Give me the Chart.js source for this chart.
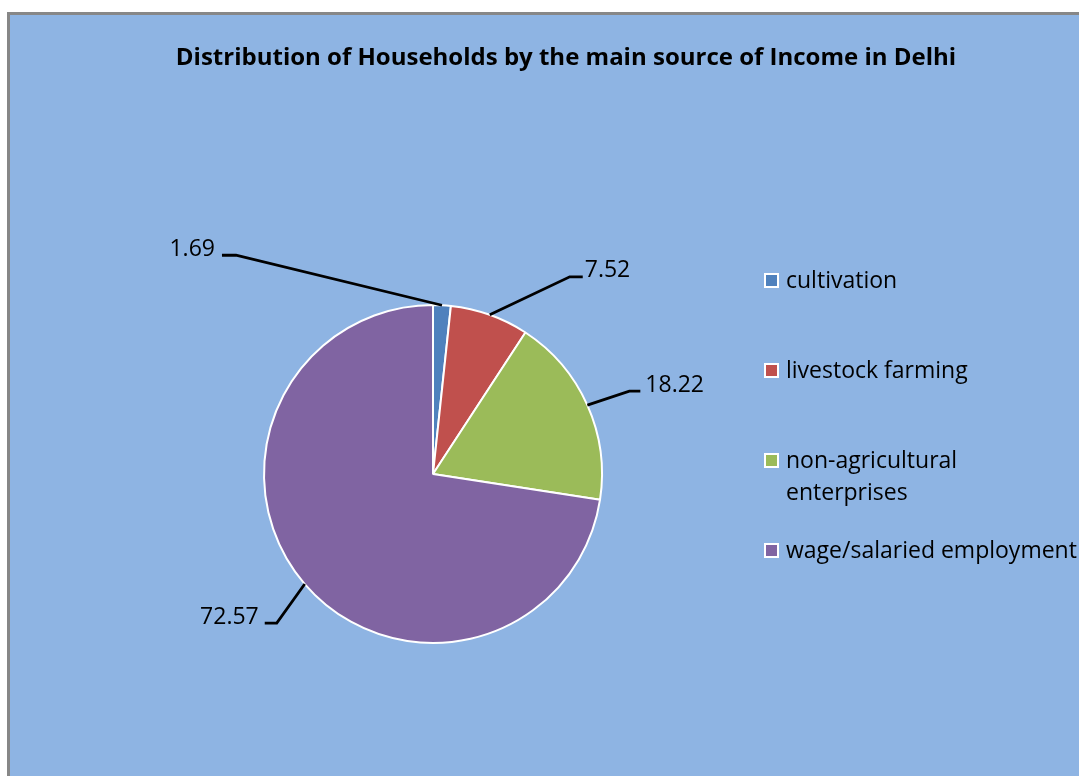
<!DOCTYPE html>
<html lang="en">
<head>
    <meta charset="UTF-8">
    <title>Distribution of Households by the main source of Income in Delhi</title>
    <script src="https://cdn.jsdelivr.net/npm/chart.js@4.4.0/dist/chart.umd.min.js"></script>
    <style>
        body {
            margin: 0;
            background: #ffffff;
            overflow: hidden;
        }
        .chart-box {
            position: absolute;
            left: 7px;
            top: 12px;
            width: 1110px;
            height: 800px;
            border: 3px solid #878787;
            background: #8eb4e3;
        }
    </style>
</head>
<body>
    <div class="chart-box">
        <canvas id="incomeChart"></canvas>
    </div>

    <script>
        // data
        const categories = ['cultivation', 'livestock farming', 'non-agricultural enterprises', 'wage/salaried employment'];
        const shares = [1.69, 7.52, 18.22, 72.57];
        const valueLabels = ['1.69', '7.52', '18.22', '72.57'];

        const sliceColors = ['#4f81bd', '#c0504d', '#9bbb59', '#8064a2'];
        // leader line elbow offsets from the slice edge (dx, dy) and horizontal tail
        const leaderOffsets = [[-206, -50, -14], [80, -38, 13], [42, -14, 11], [-28, 39, -12]];
        const labelGap = [7, 2, 5, 6];
        const wrapLegend = { 2: ['non-agricultural', 'enterprises'] };

        const fontFamily = "'Open Sans', 'Noto Sans', sans-serif";

        const decorPlugin = {
            id: 'decor',
            afterDraw(chart) {
                const ctx = chart.ctx;
                ctx.save();

                // title
                ctx.fillStyle = '#000';
                ctx.font = 'bold 24px ' + fontFamily;
                ctx.textAlign = 'center';
                ctx.textBaseline = 'middle';
                ctx.fillText('Distribution of Households by the main source of Income in Delhi', 556, 43);

                // data labels with leader lines
                const meta = chart.getDatasetMeta(0);
                ctx.font = '23px ' + fontFamily;
                meta.data.forEach((arc, i) => {
                    const p = arc.getProps(['x', 'y', 'startAngle', 'endAngle', 'outerRadius'], true);
                    const mid = (p.startAngle + p.endAngle) / 2;
                    const ax = p.x + Math.cos(mid) * p.outerRadius;
                    const ay = p.y + Math.sin(mid) * p.outerRadius;
                    const [dx, dy, tail] = leaderOffsets[i];
                    const ex = ax + dx, ey = ay + dy;
                    const tx = ex + tail;
                    ctx.strokeStyle = '#000';
                    ctx.lineWidth = 2.8;
                    ctx.beginPath();
                    ctx.moveTo(ax, ay);
                    ctx.lineTo(ex, ey);
                    ctx.lineTo(tx, ey);
                    ctx.stroke();
                    ctx.textBaseline = 'middle';
                    if (tail < 0) {
                        ctx.textAlign = 'right';
                        ctx.fillText(valueLabels[i], tx - labelGap[i], ey - 6);
                    } else {
                        ctx.textAlign = 'left';
                        ctx.fillText(valueLabels[i], tx + labelGap[i], ey - 6);
                    }
                });

                // legend
                ctx.font = '23px ' + fontFamily;
                ctx.textAlign = 'left';
                ctx.textBaseline = 'middle';
                categories.forEach((name, i) => {
                    const y = 266 + i * 90;
                    ctx.fillStyle = '#ffffff';
                    ctx.fillRect(754, y - 8, 15, 15);
                    ctx.fillStyle = sliceColors[i];
                    ctx.fillRect(756, y - 6, 11, 11);
                    ctx.fillStyle = '#000';
                    const lines = wrapLegend[i] || [name];
                    lines.forEach((line, j) => {
                        ctx.fillText(line, 776, y + j * 32);
                    });
                });

                ctx.restore();
            }
        };

        const ctx = document.getElementById('incomeChart').getContext('2d');
        new Chart(ctx, {
            type: 'pie',
            data: {
                labels: categories,
                datasets: [{
                    data: shares,
                    backgroundColor: sliceColors,
                    borderColor: '#ffffff',
                    borderWidth: 2
                }]
            },
            options: {
                responsive: true,
                maintainAspectRatio: false,
                animation: false,
                layout: {
                    padding: { left: 253, right: 517, top: 289, bottom: 171 }
                },
                plugins: {
                    legend: { display: false },
                    title: { display: false },
                    tooltip: { enabled: false }
                }
            },
            plugins: [decorPlugin]
        });
    </script>
</body>
</html>
